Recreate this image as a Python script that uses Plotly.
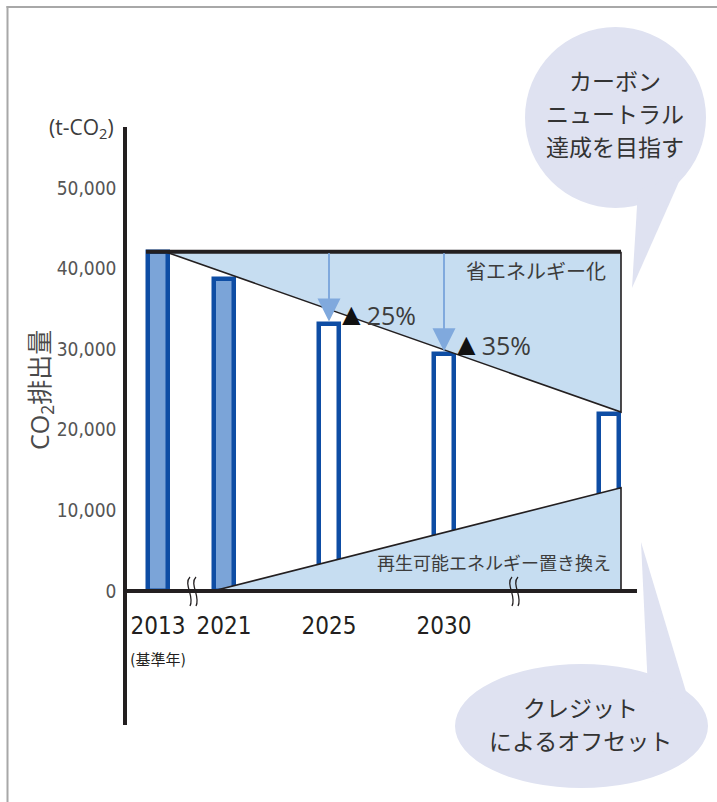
import plotly.graph_objects as go

# ---------------- data ----------------
years = ["2013", "2021", "2025", "2030", "2050"]
x_labels = ["2013<br><span style='font-size:15px'>(基準年)</span>", "2021", "2025", "2030", ""]
x_slots = [3.1, 9.7, 20.2, 31.7, 48.2]          # broken-axis category coordinates
emissions = [42100, 38700, 33100, 29400, 22000]  # t-CO2
actual = [True, True, False, False, False]
y_ticks = [0, 10000, 20000, 30000, 40000, 50000]
y_ticktext = ["0", "10,000", "20,000", "30,000", "40,000", "50,000"]
saving_start, saving_end = 42100, 22200          # 省エネルギー化 wedge
renew_start, renew_end = 0, 12800                # 再生可能エネルギー wedge
reductions = ["▲25%", "▲35%"]
bubble_top_lines = ["カーボン", "ニュートラル", "達成を目指す"]
bubble_bottom_lines = ["クレジット", "によるオフセット"]

# ---------------- geometry helpers ----------------
W, H = 717, 802
X0, X1 = 127, 637
Y_TOP, Y_BOT, Y_ZERO, Y_50K = 127, 725, 591, 188
k = (Y_ZERO - Y_50K) / 50000.0
y_hi = (Y_ZERO - Y_TOP) / k
y_lo = (Y_ZERO - Y_BOT) / k
x_hi = (X1 - X0) / 10.0

def xv(px):
    return (px - X0) / 10.0

def yv(py):
    return (Y_ZERO - py) / k

def P(px, py):
    return f"{px / W:.5f},{1 - py / H:.5f}"

dark = "#231f20"
blue = "#0E4DA4"
bar_fill = "#7BA4D8"
wedge = "#C6DDF1"
arrow_c = "#80A9DD"
bubble = "#DFE2F1"
txt = "#3c3c3c"
cjk = "Noto Sans CJK JP"
narrow = "DejaVu Sans Condensed"

fig = go.Figure()

bar_w = 2.0
fig.add_trace(go.Bar(
    x=x_slots, y=emissions, width=bar_w,
    marker=dict(color=[bar_fill if a else "white" for a in actual],
                line=dict(color=blue, width=4.5)),
    hoverinfo="skip", showlegend=False,
))

wedge_x0 = x_slots[0] + 0.7
wedge_x1 = x_slots[-1] + bar_w / 2 + 0.2
top_x0 = x_slots[0] - bar_w / 2 - 0.2
renew_x0 = x_slots[1] - bar_w / 2 - 0.1

fig.add_trace(go.Scatter(
    x=[wedge_x0, wedge_x1, wedge_x1, wedge_x0],
    y=[saving_start, saving_start, saving_end, saving_start],
    fill="toself", fillcolor=wedge, mode="lines", line=dict(width=0),
    hoverinfo="skip", showlegend=False))
fig.add_trace(go.Scatter(
    x=[wedge_x0, wedge_x1, wedge_x1], y=[saving_start, saving_end, saving_start],
    mode="lines", line=dict(color=dark, width=1.6),
    hoverinfo="skip", showlegend=False))
fig.add_trace(go.Scatter(
    x=[top_x0, wedge_x1], y=[saving_start, saving_start],
    mode="lines", line=dict(color=dark, width=4),
    hoverinfo="skip", showlegend=False))
fig.add_trace(go.Scatter(
    x=[renew_x0, wedge_x1, wedge_x1, renew_x0],
    y=[renew_start, renew_end, 0, renew_start],
    fill="toself", fillcolor=wedge, mode="lines", line=dict(color=dark, width=1.6),
    hoverinfo="skip", showlegend=False))

annotations = []
for i in (2, 3):
    annotations.append(dict(
        x=x_slots[i], y=emissions[i] + 350, xref="x", yref="y",
        ax=x_slots[i], ay=saving_start, axref="x", ayref="y",
        text="", showarrow=True, arrowhead=2, arrowsize=2.3, arrowwidth=2,
        arrowcolor=arrow_c, standoff=0, startstandoff=0))
for txtv, i in zip(reductions, (2, 3)):
    annotations.append(dict(
        x=x_slots[i] + 0.5, y=emissions[i] + 1400, xref="x", yref="y",
        xanchor="left", yanchor="middle", showarrow=False,
        text=f"<span style='font-size:31px;color:#111'>{txtv[0]}</span>{txtv[1:]}",
        font=dict(family="Open Sans", size=25, color=txt)))
annotations.append(dict(
    x=xv(536), y=yv(270), xref="x", yref="y", showarrow=False,
    xanchor="center", yanchor="middle",
    text="省エネルギー化", font=dict(family=cjk, size=20, color=txt)))
annotations.append(dict(
    x=xv(494), y=yv(562), xref="x", yref="y", showarrow=False,
    xanchor="center", yanchor="middle",
    text="再生可能エネルギー置き換え", font=dict(family=cjk, size=18, color=txt)))
annotations.append(dict(
    x=116 / W, y=1 - 128 / H, xref="paper", yref="paper",
    xanchor="right", yanchor="middle",
    showarrow=False, text="(t-CO<sub>2</sub>)",
    font=dict(family="Open Sans", size=21, color=txt)))
annotations.append(dict(
    x=40 / W, y=1 - 390 / H, xref="paper", yref="paper", textangle=-90,
    xanchor="center", yanchor="middle",
    showarrow=False, text="CO<sub>2</sub>排出量",
    font=dict(family=f"Open Sans, {cjk}", size=25, color="#4a4a4a")))
for line, py in zip(bubble_top_lines, (80, 113, 146)):
    annotations.append(dict(
        x=615 / W, y=1 - py / H, xref="paper", yref="paper", showarrow=False,
        xanchor="center", yanchor="middle", text=line,
        font=dict(family=cjk, size=23, color="#333333")))
for line, py in zip(bubble_bottom_lines, (707, 740)):
    annotations.append(dict(
        x=580 / W, y=1 - py / H, xref="paper", yref="paper", showarrow=False,
        xanchor="center", yanchor="middle", text=line,
        font=dict(family=cjk, size=23, color="#333333")))

shapes = []
shapes.append(dict(type="line", xref="paper", yref="paper",
                   x0=7.5 / W, x1=7.5 / W, y0=0, y1=1 - 6 / H,
                   line=dict(color="#A8A8A8", width=2)))
shapes.append(dict(type="line", xref="paper", yref="paper",
                   x0=6.5 / W, x1=1, y0=1 - 7 / H, y1=1 - 7 / H,
                   line=dict(color="#A8A8A8", width=2)))
shapes.append(dict(type="circle", xref="paper", yref="paper", layer="below",
                   x0=525 / W, x1=706 / W, y0=1 - 208 / H, y1=1 - 27 / H,
                   fillcolor=bubble, line=dict(width=0)))
shapes.append(dict(type="path", xref="paper", yref="paper", layer="below",
                   path=f"M{P(632, 288)} L{P(638, 190)} L{P(682, 175)} Z",
                   fillcolor=bubble, line=dict(width=0)))
shapes.append(dict(type="circle", xref="paper", yref="paper", layer="below",
                   x0=455 / W, x1=708 / W, y0=1 - 788 / H, y1=1 - 664 / H,
                   fillcolor=bubble, line=dict(width=0)))
shapes.append(dict(type="path", xref="paper", yref="paper", layer="below",
                   path=f"M{P(641, 542)} L{P(648, 690)} L{P(690, 705)} Z",
                   fillcolor=bubble, line=dict(width=0)))
for bx in (188, 194, 510, 516):
    shapes.append(dict(
        type="path", xref="paper", yref="paper", layer="above",
        path=f"M{P(bx + 2, 577)} C{P(bx - 5, 584)} {P(bx + 7, 597)} {P(bx + 2, 606)}",
        line=dict(color=dark, width=1.3)))

fig.update_layout(
    width=W, height=H, autosize=False,
    margin=dict(l=0, r=0, t=0, b=0),
    paper_bgcolor="white", plot_bgcolor="rgba(0,0,0,0)",
    showlegend=False, bargap=0,
    annotations=annotations, shapes=shapes,
    xaxis=dict(domain=[X0 / W, X1 / W], range=[0, x_hi],
               anchor="free", position=1 - Y_ZERO / H,
               showline=True, linecolor=dark, linewidth=3.5,
               showgrid=False, zeroline=False, ticks="",
               tickvals=x_slots[:4], ticktext=x_labels[:4],
               tickfont=dict(family=f"{narrow}, {cjk}", size=24, color=dark),
               ticklabelstandoff=12, fixedrange=True, automargin=False),
    yaxis=dict(domain=[1 - Y_BOT / H, 1 - Y_TOP / H], range=[y_lo, y_hi],
               showline=True, linecolor=dark, linewidth=3.5,
               showgrid=False, zeroline=False, ticks="",
               tickvals=y_ticks, ticktext=y_ticktext,
               tickfont=dict(family=narrow, size=19, color="#555555"),
               ticklabelstandoff=3, fixedrange=True, automargin=False),
)

fig.write_html("out.html", config={"displayModeBar": False},
               post_script="document.body.style.margin='0';")
